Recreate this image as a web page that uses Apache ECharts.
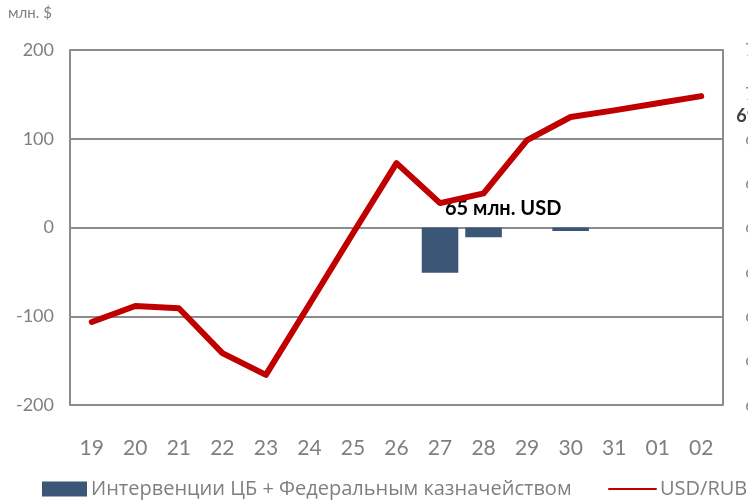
<!DOCTYPE html>
<html>
<head>
<meta charset="utf-8">
<script src="https://cdn.jsdelivr.net/npm/echarts@6/dist/echarts.min.js"></script>
<style>
    html, body { margin: 0; padding: 0; background: #fff; }
    #chart { width: 748px; height: 501px; }
</style>
</head>
<body>
<div id="chart"></div>
<script>
    // данные
    var days = ['19', '20', '21', '22', '23', '24', '25', '26', '27', '28', '29', '30', '31', '01', '02'];
    var interventions = [null, null, null, null, null, null, null, null, -51, -11, null, -4, null, null, null];
    var usdRub = [64.87, 65.23, 65.18, 64.17, 63.68, 65.27, 66.87, 68.45, 67.55, 67.77, 68.97, 69.49, 69.64, 69.80, 69.96];

    var grey = '#7f7f7f';
    var font = 'Lato, "Open Sans", sans-serif';
    var legendFont = '"Open Sans", Lato, sans-serif';

    var myChart = echarts.init(document.getElementById('chart'));
    myChart.setOption({
        animation: false,
        textStyle: { fontFamily: font },
        grid: { left: 70, right: 25, top: 50, bottom: 96, outerBoundsMode: 'none', containLabel: false },
        graphic: [
            {
                type: 'text', left: 8, top: 6,
                style: { text: 'млн. $', fontSize: 15, fill: grey, fontFamily: font }
            },
            {
                type: 'text', left: 445, top: 199,
                style: { text: '65 млн. USD', fontSize: 20, fontWeight: 'bold', fill: '#000', fontFamily: font }
            }
        ],
        legend: [
            {
                top: 479, left: 42, padding: 0,
                itemWidth: 45, itemHeight: 15, itemGap: 4,
                textStyle: { fontSize: 20, color: grey, fontFamily: legendFont, padding: [0, 0, 0, -1] },
                data: [{ name: 'Интервенции ЦБ + Федеральным казначейством', icon: 'rect' }]
            },
            {
                top: 479, left: 608, padding: 0,
                itemWidth: 47, itemHeight: 15,
                textStyle: { fontSize: 20, color: grey, fontFamily: legendFont, padding: [0, 0, 0, -1] },
                data: [{ name: 'USD/RUB', itemStyle: { opacity: 0 } }]
            }
        ],
        xAxis: {
            type: 'category',
            data: days,
            axisLine: { show: false },
            axisTick: { show: false },
            axisLabel: { fontSize: 21, color: grey, margin: 33 }
        },
        yAxis: [
            {
                type: 'value',
                min: -200, max: 200, interval: 100,
                axisLabel: { fontSize: 18, color: grey, margin: 16 },
                axisLine: { show: true, lineStyle: { color: '#8c8c8c', width: 2 } },
                splitLine: { lineStyle: { color: '#8c8c8c', width: 2 } }
            },
            {
                type: 'value',
                min: 63, max: 71, interval: 1,
                position: 'right',
                axisLabel: { fontSize: 18, color: '#8c8c8c', margin: 22 },
                axisLine: { show: true, lineStyle: { color: '#8c8c8c', width: 2 } },
                splitLine: { show: false }
            }
        ],
        series: [
            {
                name: 'Интервенции ЦБ + Федеральным казначейством',
                type: 'bar',
                yAxisIndex: 0,
                barWidth: '84%',
                itemStyle: { color: '#3b5677' },
                data: interventions
            },
            {
                name: 'USD/RUB',
                type: 'line',
                yAxisIndex: 1,
                symbol: 'none',
                lineStyle: { color: '#c00000', width: 6, cap: 'round', join: 'round' },
                itemStyle: { color: '#c00000' },
                endLabel: {
                    show: true, distance: 0, offset: [35, 20],
                    fontSize: 18, fontWeight: 'bold', color: '#404040',
                    formatter: function (p) { return p.value.toFixed(2); }
                },
                data: usdRub
            }
        ]
    });
</script>
</body>
</html>
